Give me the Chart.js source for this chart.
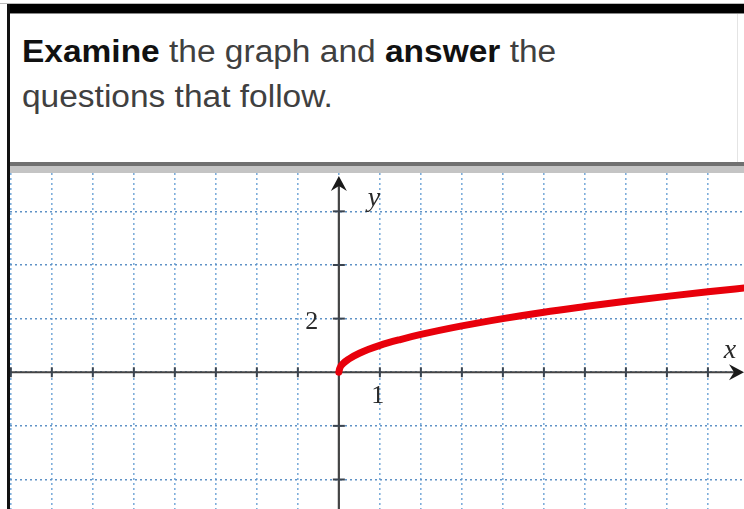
<!DOCTYPE html>
<html>
<head>
<meta charset="utf-8">
<script src="https://cdn.jsdelivr.net/npm/chart.js@4.4.1/dist/chart.umd.min.js"></script>
<style>
  html, body { margin: 0; padding: 0; background: #fff; width: 744px; height: 509px; overflow: hidden; }
  .abs { position: absolute; }
  #topline { left: 0; top: 3px; width: 744px; height: 1px; background: #bbb; }
  #topbar { left: 7px; top: 4px; width: 737px; height: 9px; background: #000; }
  #topbar2 { left: 7px; top: 13px; width: 737px; height: 1px; background: #888; }
  #leftborder { left: 7px; top: 4px; width: 3px; height: 505px; background: #111; }
  #rightfaint { left: 737px; top: 14px; width: 1px; height: 148px; background: #e4e4e4; }
  #sep1 { left: 10px; top: 162px; width: 734px; height: 4px; background: #707070; }
  #sep2 { left: 10px; top: 166px; width: 734px; height: 7px; background: #c4c4c4; }
  .txt { font-family: "Liberation Sans", Arial, sans-serif; font-size: 31px; line-height: 31px; color: #404040; white-space: nowrap; transform-origin: 0 0; transform: scaleX(1.08); }
  .txt b { color: #111; }
  #line1 { left: 22px; top: 36px; }
  #line2 { left: 22px; top: 81px; }
  #chartwrap { left: 10px; top: 173px; width: 734px; height: 336px; }
</style>
</head>
<body>
<div class="abs" id="topline"></div>
<div class="abs" id="topbar"></div>
<div class="abs" id="topbar2"></div>
<div class="abs" id="rightfaint"></div>
<div class="abs txt" id="line1"><b>Examine</b> the graph and <b>answer</b> the</div>
<div class="abs txt" id="line2">questions that follow.</div>
<div class="abs" id="sep1"></div>
<div class="abs" id="sep2"></div>
<div class="abs" id="chartwrap"><canvas id="c" width="734" height="336"></canvas></div>
<div class="abs" id="leftborder"></div>
<script>
// Curve values
const curveX = [0, 0.02, 0.1, 0.25, 0.5, 1, 1.5, 2, 3, 4, 5, 6, 7, 8, 9, 10];
const curveY = [0, 0.14, 0.32, 0.5, 0.71, 1.0, 1.22, 1.41, 1.73, 2.0, 2.24, 2.45, 2.65, 2.83, 3.0, 3.16];
// Axis window
const xRange = [-8.02, 9.88];
const yRange = [-5.1, 7.43];
const xStep = 1;
const yStep = 2;
// Axis labels
const tickLabelX = { value: 1, text: "1" };
const tickLabelY = { value: 2, text: "2" };
const axisNames = ["x", "y"];

const points = curveX.map((x, i) => ({ x: x, y: curveY[i] }));

const axesPlugin = {
  id: 'axesPlugin',
  beforeDatasetsDraw(chart) {
    const ctx = chart.ctx;
    const xs = chart.scales.x, ys = chart.scales.y;
    const ca = chart.chartArea;
    const x0 = xs.getPixelForValue(0), y0 = ys.getPixelForValue(0);
    ctx.save();
    ctx.strokeStyle = '#444';
    ctx.fillStyle = '#1a1a1a';
    ctx.lineWidth = 2.2;
    // x axis
    ctx.beginPath();
    ctx.moveTo(ca.left, y0);
    ctx.lineTo(ca.right - 4, y0);
    ctx.stroke();
    // y axis
    ctx.beginPath();
    ctx.moveTo(x0, ca.bottom);
    ctx.lineTo(x0, ca.top + 8);
    ctx.stroke();
    // arrowheads
    ctx.beginPath();
    ctx.moveTo(ca.right, y0);
    ctx.lineTo(ca.right - 15, y0 - 8);
    ctx.lineTo(ca.right - 10, y0);
    ctx.lineTo(ca.right - 15, y0 + 8);
    ctx.closePath();
    ctx.fill();
    ctx.beginPath();
    ctx.moveTo(x0, ca.top + 3);
    ctx.lineTo(x0 - 8, ca.top + 18);
    ctx.lineTo(x0, ca.top + 13);
    ctx.lineTo(x0 + 8, ca.top + 18);
    ctx.closePath();
    ctx.fill();
    // tick marks
    ctx.lineWidth = 2;
    ctx.strokeStyle = '#3a4450';
    xs.ticks.forEach(t => {
      if (t.value === 0) return;
      const px = xs.getPixelForValue(t.value);
      if (px > ca.right - 16) return;
      ctx.beginPath();
      ctx.moveTo(px, y0 - 5);
      ctx.lineTo(px, y0 + 5);
      ctx.stroke();
    });
    ys.ticks.forEach(t => {
      if (t.value === 0) return;
      const py = ys.getPixelForValue(t.value);
      ctx.beginPath();
      ctx.moveTo(x0 - 6, py);
      ctx.lineTo(x0 + 6, py);
      ctx.stroke();
    });
    // tick labels
    ctx.fillStyle = '#2a2a2a';
    ctx.font = '26px "Liberation Serif", serif';
    ctx.textAlign = 'center';
    ctx.textBaseline = 'middle';
    ctx.fillText(tickLabelY.text, x0 - 27, ys.getPixelForValue(tickLabelY.value) + 4);
    ctx.fillText(tickLabelX.text, xs.getPixelForValue(tickLabelX.value) - 2, y0 + 24);
    // axis names
    ctx.font = 'italic 28px "Liberation Serif", serif';
    ctx.fillText(axisNames[1], x0 + 35, ca.top + 26);
    ctx.fillText(axisNames[0], ca.right - 14, y0 - 22);
    ctx.restore();
  }
};

new Chart(document.getElementById('c'), {
  type: 'line',
  data: {
    datasets: [{
      data: points,
      borderColor: '#e8000b',
      borderWidth: 7,
      pointRadius: 0,
      cubicInterpolationMode: 'monotone',
      fill: false,
      borderCapStyle: 'round'
    }]
  },
  options: {
    responsive: false,
    animation: false,
    events: [],
    layout: { padding: 0, autoPadding: false },
    plugins: { legend: { display: false }, tooltip: { enabled: false } },
    scales: {
      x: {
        type: 'linear',
        min: xRange[0], max: xRange[1],
        ticks: { display: false, stepSize: xStep, includeBounds: false },
        grid: { color: '#7eaedb', lineWidth: 1.6, drawTicks: false },
        border: { display: false, dash: [2, 3] }
      },
      y: {
        type: 'linear',
        min: yRange[0], max: yRange[1],
        ticks: { display: false, stepSize: yStep, includeBounds: false },
        grid: { color: '#5f92c6', lineWidth: 1.6, drawTicks: false },
        border: { display: false, dash: [2, 3] }
      }
    }
  },
  plugins: [axesPlugin]
});
</script>
</body>
</html>
